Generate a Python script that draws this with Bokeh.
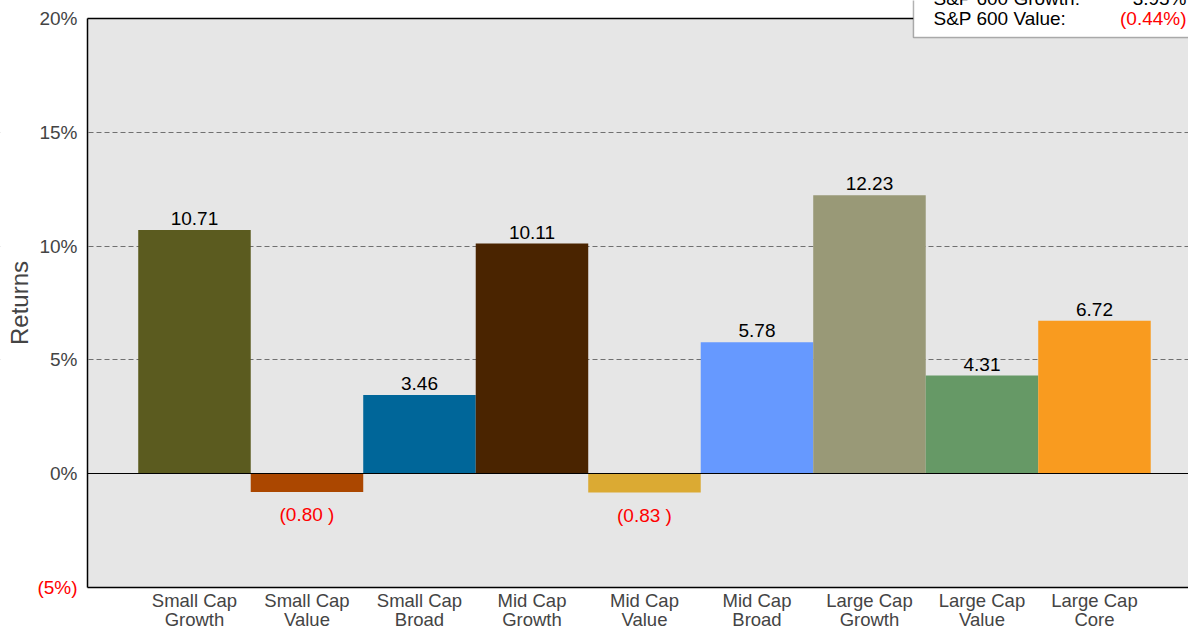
from bokeh.plotting import figure
from bokeh.models import (Range1d, FixedTicker, LinearAxis, BoxAnnotation, Grid,
                          ColumnDataSource)
from bokeh.embed import file_html
from bokeh.resources import INLINE
from bokeh.core.properties import value

# ---- data ----
categories = ["Small Cap\nGrowth", "Small Cap\nValue", "Small Cap\nBroad",
              "Mid Cap\nGrowth", "Mid Cap\nValue", "Mid Cap\nBroad",
              "Large Cap\nGrowth", "Large Cap\nValue", "Large Cap\nCore"]
returns = [10.71, -0.80, 3.46, 10.11, -0.83, 5.78, 12.23, 4.31, 6.72]
bar_colors = ["#5B5B1F", "#AB4700", "#006699", "#4A2400", "#DBAA33",
              "#6699FF", "#999977", "#669966", "#F99B1F"]
y_ticks = [-5, 0, 5, 10, 15, 20]
y_tick_labels = ["(5%)", "0%", "5%", "10%", "15%", "20%"]
legend_names = ["S&P 600 Growth:", "S&P 600 Value:"]
legend_values = ["3.95%", "(0.44%)"]

FONT = "Liberation Sans"
FS = "19px"

# layout constants (data-space extents of the canvas / plot box)
X0, X1 = -1.7243, 8.8357          # canvas left / right
Y0, Y1 = -6.801, 20.791           # canvas bottom / top
CL = -0.951                       # left edge of the plot box
YB, YT = y_ticks[0], y_ticks[-1]  # bottom / top of the plot box
LEG_L, LEG_B = 6.391, 19.165      # legend box corner

xs = list(range(len(categories)))
x_pos = [x for x, v in zip(xs, returns) if v >= 0]
y_pos = [v for v in returns if v >= 0]
lbl_pos = ["%.2f" % v for v in returns if v >= 0]
x_neg = [x for x, v in zip(xs, returns) if v < 0]
y_neg = [v for v in returns if v < 0]
lbl_neg = ["(%.2f )" % abs(v) for v in returns if v < 0]

p = figure(width=1188, height=628, output_backend="svg", toolbar_location=None,
           x_range=Range1d(X0, X1), y_range=Range1d(Y0, Y1),
           x_axis_location=None, y_axis_location=None, min_border=0)
# drop any default grids
p.center = [r for r in p.center if not isinstance(r, Grid)]
p.background_fill_color = "white"
p.border_fill_color = "white"
p.outline_line_color = None

# gray plot box
p.add_layout(BoxAnnotation(left=CL, bottom=YB, top=YT, fill_color="#E6E6E6",
                           fill_alpha=1.0, line_color=None, level="underlay"))
# dashed grid
grid = Grid(dimension=1, ticker=FixedTicker(ticks=[5, 10, 15]),
            grid_line_color="#707070", grid_line_dash="5 3", grid_line_width=1)
p.add_layout(grid)
# white strip left of the plot box (hides grid there)
p.add_layout(BoxAnnotation(left=X0 - 1, right=CL, fill_color="white", fill_alpha=1.0,
                           line_color=None, level="underlay"))

# bars
src = ColumnDataSource(dict(x=xs, top=returns, color=bar_colors))
p.vbar(x="x", top="top", bottom=0, width=1.0, color="color", line_color=None,
       source=src)

# value labels
p.text(x=x_pos, y=y_pos, text=lbl_pos, text_align="center", text_baseline="bottom",
       y_offset=-5, text_font=value(FONT), text_font_size=FS, text_color="black")
p.text(x=x_neg, y=y_neg, text=lbl_neg, text_align="center", text_baseline="top",
       y_offset=12, text_font=value(FONT), text_font_size=FS, text_color="#FF0000")


def bare_axis(loc, bounds, width):
    ax = LinearAxis(fixed_location=loc, bounds=bounds,
                    ticker=FixedTicker(ticks=[], minor_ticks=[]),
                    axis_line_color="black", axis_line_width=width,
                    major_tick_line_color=None, minor_tick_line_color=None,
                    major_tick_out=0, major_tick_in=0, minor_tick_out=0,
                    major_label_text_color=None, major_label_text_font_size="1px")
    return ax


# y axis
yax = LinearAxis(fixed_location=CL, bounds=(YB, YT),
                 ticker=FixedTicker(ticks=y_ticks, minor_ticks=[]))
ov = {t: l for t, l in zip(y_ticks, y_tick_labels)}
ov[y_ticks[0]] = ""
yax.major_label_overrides = ov
yax.major_label_text_font = FONT
yax.major_label_text_font_size = FS
yax.major_label_standoff = 10
yax.major_tick_line_color = None
yax.minor_tick_line_color = None
yax.major_tick_out = 0
yax.major_tick_in = 0
yax.minor_tick_out = 0
yax.axis_line_color = "black"
yax.axis_line_width = 1.5
yax.axis_label = "Returns"
yax.axis_label_text_font = FONT
yax.axis_label_text_font_size = "24px"
yax.axis_label_text_font_style = "normal"
yax.axis_label_standoff = 3
p.add_layout(yax, "left")

# red negative tick label
p.text(x=[CL], y=[y_ticks[0]], text=[y_tick_labels[0]], x_offset=-10,
       text_align="right", text_baseline="middle", text_font=value(FONT),
       text_font_size=FS, text_color="#FF0000")

# x axis (category labels)
xax = LinearAxis(fixed_location=YB, bounds=(CL, X1),
                 ticker=FixedTicker(ticks=xs, minor_ticks=[]))
xax.major_label_overrides = {i: c for i, c in enumerate(categories)}
xax.major_label_text_font = FONT
xax.major_label_text_font_size = "18.5px"
xax.major_label_text_line_height = 0.93
xax.major_label_standoff = 2
xax.major_tick_line_color = None
xax.minor_tick_line_color = None
xax.major_tick_out = 0
xax.major_tick_in = 0
xax.minor_tick_out = 0
xax.axis_line_color = "black"
xax.axis_line_width = 1.5
p.add_layout(xax, "below")

# top border and zero line
p.add_layout(bare_axis(YT, (CL, LEG_L), 1.5), "above")
p.add_layout(bare_axis(0, (CL, X1), 1), "below")

# legend box (top right, partly cut off)
p.add_layout(BoxAnnotation(left=LEG_L, right=X1 + 1, bottom=LEG_B, top=Y1 + 1,
                           fill_color="white", fill_alpha=1.0, line_color="black",
                           line_width=1.5, level="annotation"))
leg_y = [20.857, 19.98]
p.text(x=[6.569] * 2, y=leg_y, text=legend_names, text_align="left",
       text_baseline="middle", text_font=value(FONT), text_font_size=FS,
       text_color="black", level="overlay")
p.text(x=[8.818] * 2, y=leg_y, text=legend_values, text_align="right",
       text_baseline="middle", text_font=value(FONT), text_font_size=FS,
       text_color=["#FF0000" if v.startswith("(") else "black" for v in legend_values],
       level="overlay")

open("out.html", "w").write(file_html(p, INLINE))
